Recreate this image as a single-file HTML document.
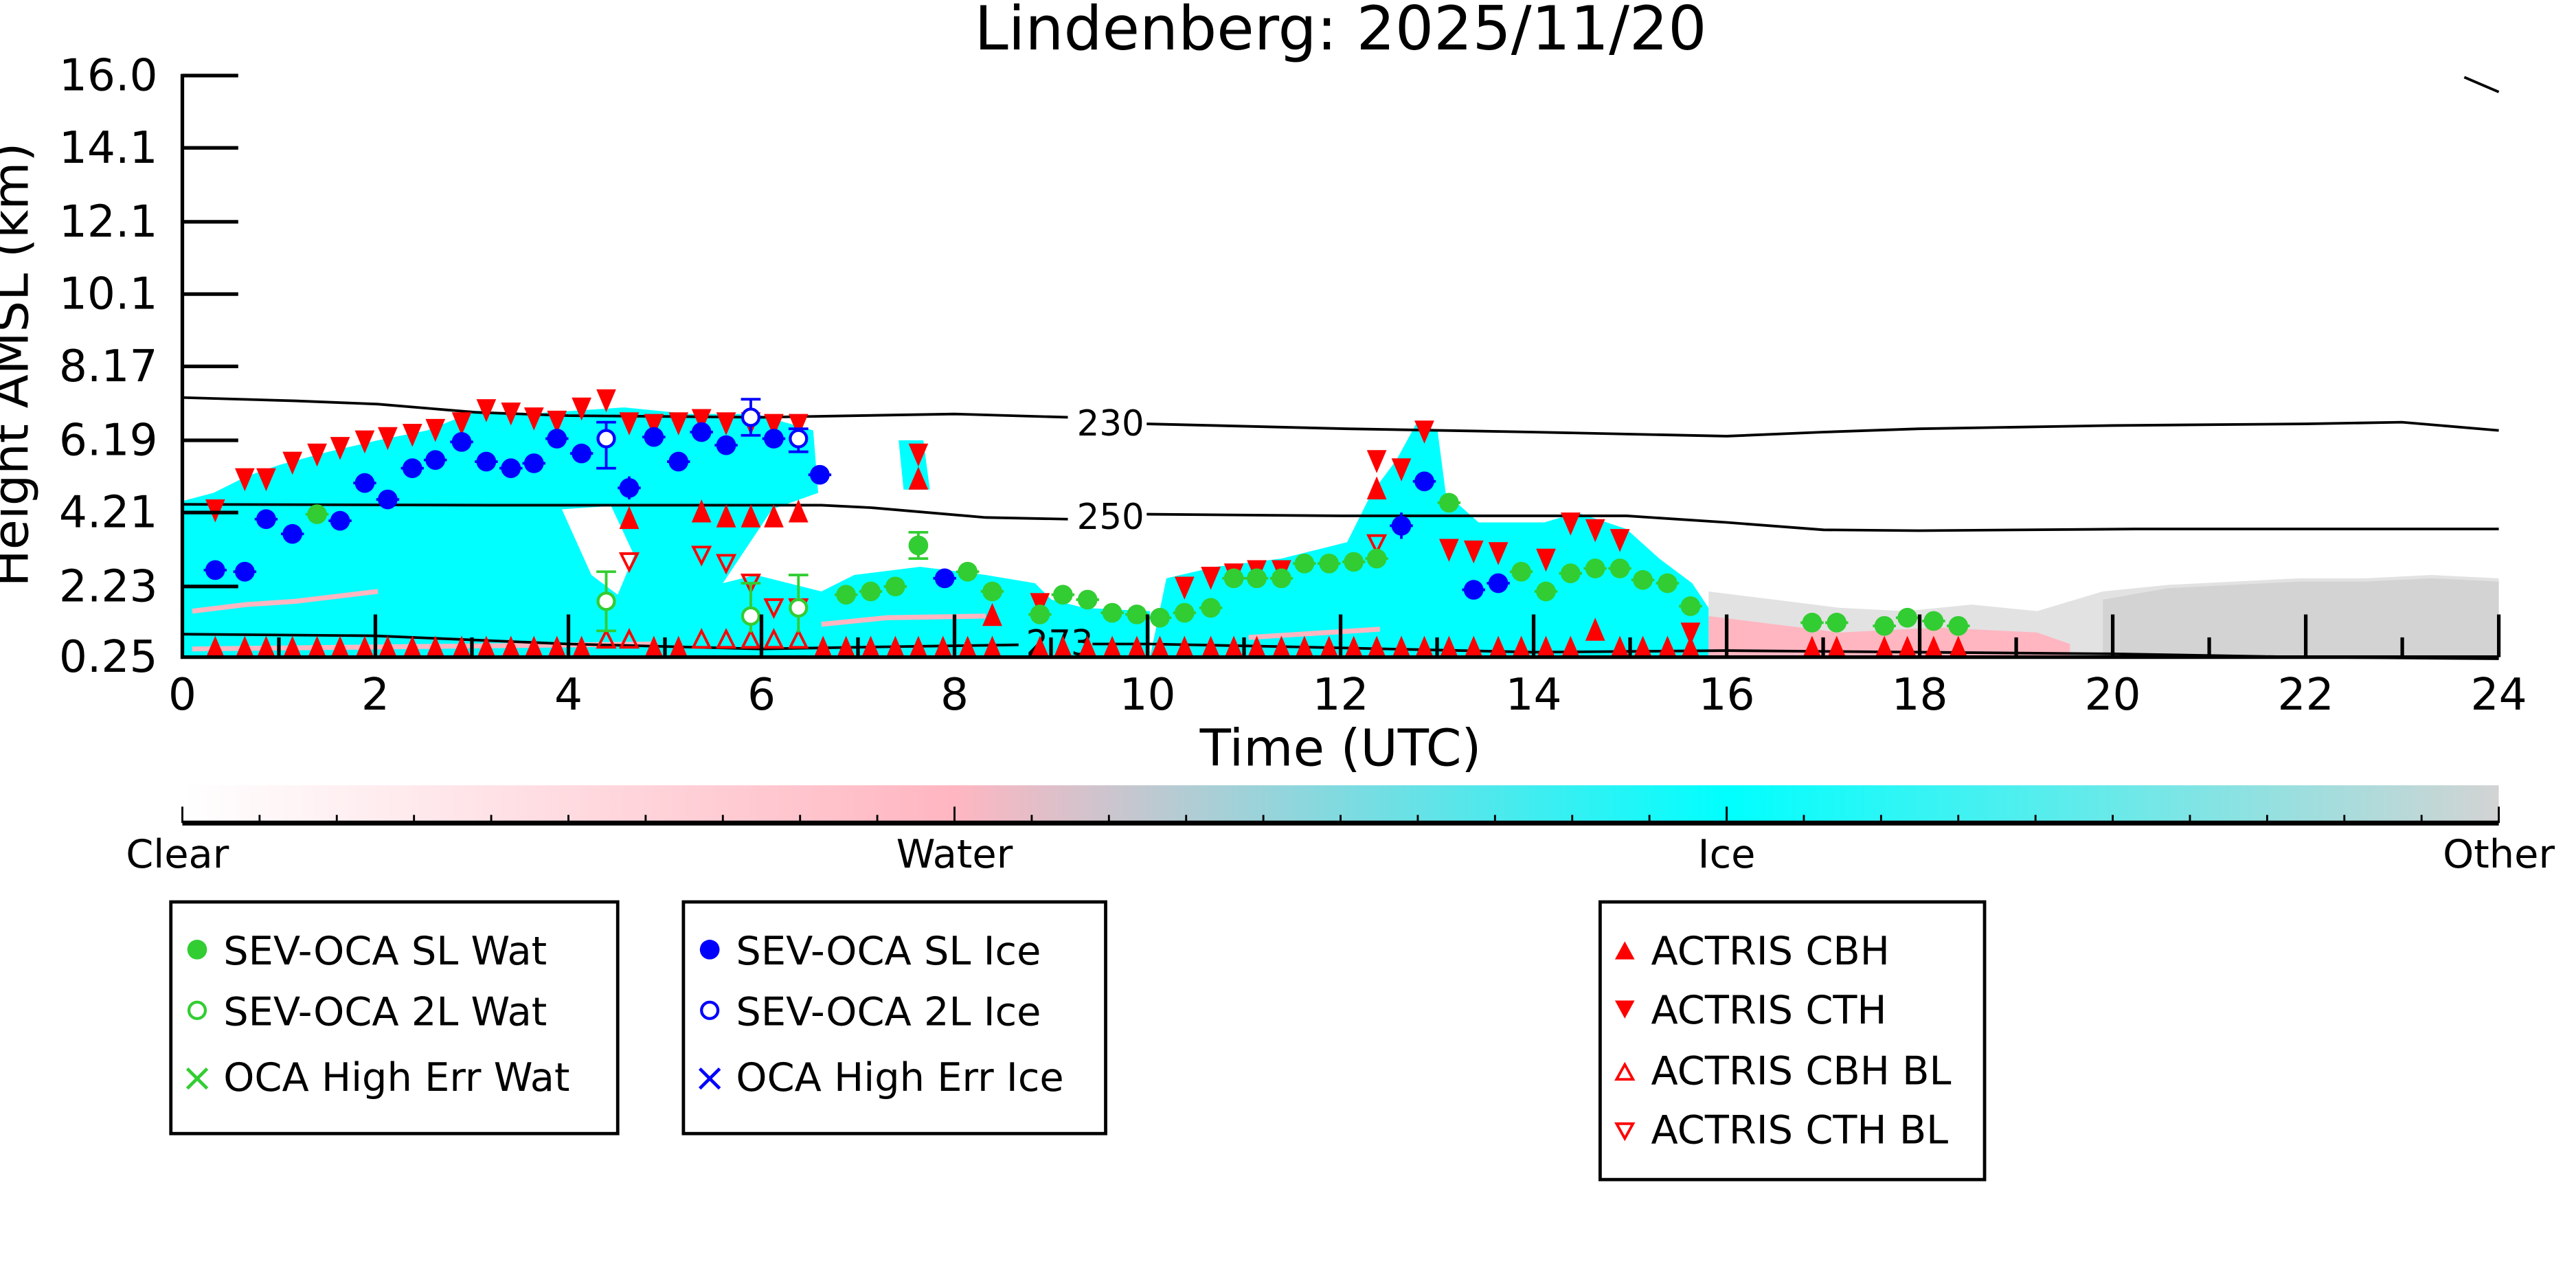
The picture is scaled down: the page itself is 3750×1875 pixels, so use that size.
<!DOCTYPE html>
<html><head><meta charset="utf-8"><style>html,body{margin:0;padding:0;background:#fff}svg{display:block}</style></head>
<body>
<svg width="3750" height="1875" viewBox="0 0 1568 784" xmlns="http://www.w3.org/2000/svg" font-family="'DejaVu Sans','Liberation Sans',sans-serif">
<defs>
<linearGradient id="cb" x1="0" x2="1" y1="0" y2="0">
<stop offset="0" stop-color="#ffffff"/><stop offset="0.333" stop-color="#ffb6c1"/><stop offset="0.667" stop-color="#00ffff"/><stop offset="1" stop-color="#d3d3d3"/>
</linearGradient>
</defs>
<text x="816" y="30" font-size="37" text-anchor="middle">Lindenberg: 2025/11/20</text>
<!-- gray other region -->
<polygon fill="#e2e2e2" points="1040,400 1040,360 1080,365 1120,370 1160,372 1200,368 1240,372 1280,360 1320,356 1360,354 1400,352 1440,352 1480,350 1521,352 1521,400"/>
<polygon fill="#d3d3d3" points="1280,400 1280,365 1320,358 1360,356 1400,354 1440,354 1480,352 1521,354 1521,400"/>
<polygon fill="#ffb6c1" points="1040,400 1040,375 1080,380 1120,385 1180,382 1240,385 1260,392 1260,400"/>
<!-- cyan regions -->
<polygon fill="#00ffff" points="111,305 130,300 150,290 170,283 200,275 230,268 260,262 290,250 320,252 350,250 380,248 420,252 460,252 495,262 498,300 470,310 450,340 440,355 460,350 500,360 520,350 560,345 600,350 630,355 640,365 660,370 700,372 700,400 111,400"/>
<polygon fill="#00ffff" points="710,352 740,345 780,340 820,330 835,300 850,280 862,258 875,262 880,300 900,318 940,318 960,312 990,322 1010,340 1030,355 1040,370 1040,400 700,400"/>
<polygon fill="#00ffff" points="547,268 562,268 566,298 550,298"/>
<polygon fill="#ffffff" points="342,310 372,308 386,338 376,362 360,350"/>
<!-- pink streaks -->
<g stroke="#ffb6c1" stroke-width="3" fill="none">
<path d="M117,372 L150,368 L180,366 L230,360"/><path d="M500,380 L540,376 L600,375"/><path d="M117,395 L400,392"/><path d="M760,388 L840,383"/>
</g>
<!-- contours -->
<g stroke="#000" stroke-width="1.6" fill="none">
<path d="M111,242 L180,244 L230,246 L290,251 L346,253 L463,254 L581,252 L650,254"/>
<path d="M698,258 L820,261 L933,263 L1051,265.5 L1110,263 L1168,261 L1286,259 L1403,258 L1462,257 L1521,262"/>
<path d="M111,307 L300,307.5 L500,307.5 L530,309 L600,315 L650,316"/>
<path d="M698,313 L816,314 L990,314 L1051,318 L1110,322.5 L1168,323 L1300,322 L1521,322"/>
<path d="M111,386 L228,387 L346,392 L463,395 L520,394 L620,392.5"/>
<path d="M665,392 L700,392 L800,394 L933,397 L1051,396 L1286,398 L1403,400 L1521,401"/>
<path d="M1500,47 L1521,56"/>
</g>
<text x="676" y="265" font-size="21.5" text-anchor="middle">230</text>
<text x="676" y="322" font-size="21.5" text-anchor="middle">250</text>
<text x="645" y="399" font-size="21.5" text-anchor="middle">273</text>
<!-- CBH bottom row -->
<g fill="#ff0000">
<path d="M125,401 l6,-14 l6,14z M143,401 l6,-14 l6,14z M156,401 l6,-14 l6,14z M172,401 l6,-14 l6,14z M187,401 l6,-14 l6,14z M201,401 l6,-14 l6,14z M216,401 l6,-14 l6,14z M230,401 l6,-14 l6,14z M245,401 l6,-14 l6,14z M259,401 l6,-14 l6,14z M275,401 l6,-14 l6,14z M290,401 l6,-14 l6,14z M305,401 l6,-14 l6,14z M319,401 l6,-14 l6,14z M333,401 l6,-14 l6,14z M348,401 l6,-14 l6,14z M392,401 l6,-14 l6,14z M407,401 l6,-14 l6,14z M495,401 l6,-14 l6,14z M509,401 l6,-14 l6,14z M524,401 l6,-14 l6,14z M539,401 l6,-14 l6,14z M553,401 l6,-14 l6,14z M568,401 l6,-14 l6,14z M583,401 l6,-14 l6,14z M598,401 l6,-14 l6,14z M627,401 l6,-14 l6,14z M641,401 l6,-14 l6,14z M656,401 l6,-14 l6,14z M671,401 l6,-14 l6,14z M686,401 l6,-14 l6,14z M700,401 l6,-14 l6,14z M715,401 l6,-14 l6,14z M731,401 l6,-14 l6,14z M745,401 l6,-14 l6,14z M759,401 l6,-14 l6,14z M774,401 l6,-14 l6,14z M788,401 l6,-14 l6,14z M803,401 l6,-14 l6,14z M818,401 l6,-14 l6,14z M832,401 l6,-14 l6,14z M847,401 l6,-14 l6,14z M861,401 l6,-14 l6,14z M876,401 l6,-14 l6,14z M891,401 l6,-14 l6,14z M906,401 l6,-14 l6,14z M920,401 l6,-14 l6,14z M935,401 l6,-14 l6,14z M950,401 l6,-14 l6,14z M980,401 l6,-14 l6,14z M994,401 l6,-14 l6,14z M1009,401 l6,-14 l6,14z M1023,401 l6,-14 l6,14z M1097,401 l6,-14 l6,14z M1112,401 l6,-14 l6,14z M1141,401 l6,-14 l6,14z M1155,401 l6,-14 l6,14z M1171,401 l6,-14 l6,14z M1186,401 l6,-14 l6,14z"/>
<path d="M377,322 l6,-14 l6,14z M421,318 l6,-14 l6,14z M436,321 l6,-14 l6,14z M451,321 l6,-14 l6,14z M465,321 l6,-14 l6,14z M480,318 l6,-14 l6,14z M553,298 l6,-14 l6,14z M832,304 l6,-14 l6,14z M965,390 l6,-14 l6,14z M598,381 l6,-14 l6,14z"/>
<path d="M125,304 l6,14 l6,-14z M143,285 l6,14 l6,-14z M156,285 l6,14 l6,-14z M172,275 l6,14 l6,-14z M187,270 l6,14 l6,-14z M201,266 l6,14 l6,-14z M216,262 l6,14 l6,-14z M230,260 l6,14 l6,-14z M245,258 l6,14 l6,-14z M259,255 l6,14 l6,-14z M275,251 l6,14 l6,-14z M290,243 l6,14 l6,-14z M305,245 l6,14 l6,-14z M319,248 l6,14 l6,-14z M333,250 l6,14 l6,-14z M348,242 l6,14 l6,-14z M363,237 l6,14 l6,-14z M377,251 l6,14 l6,-14z M392,252 l6,14 l6,-14z M407,251 l6,14 l6,-14z M421,249 l6,14 l6,-14z M436,251 l6,14 l6,-14z M451,251 l6,14 l6,-14z M465,252 l6,14 l6,-14z M480,252 l6,14 l6,-14z M553,270 l6,14 l6,-14z M832,274 l6,14 l6,-14z M847,279 l6,14 l6,-14z M861,256 l6,14 l6,-14z M876,328 l6,14 l6,-14z M891,329 l6,14 l6,-14z M906,330 l6,14 l6,-14z M935,334 l6,14 l6,-14z M950,312 l6,14 l6,-14z M965,316 l6,14 l6,-14z M980,322 l6,14 l6,-14z M1023,379 l6,14 l6,-14z M627,361 l6,14 l6,-14z M715,351 l6,14 l6,-14z M731,345 l6,14 l6,-14z M745,343 l6,14 l6,-14z M759,341 l6,14 l6,-14z M774,341 l6,14 l6,-14z"/>
</g>
<g fill="none" stroke="#ff0000" stroke-width="1.6">
<path d="M378,337 l5,10 l5,-10z M422,333 l5,10 l5,-10z M437,338 l5,10 l5,-10z M452,350 l5,10 l5,-10z M466,365 l5,10 l5,-10z M481,365 l5,10 l5,-10z M833,326 l5,10 l5,-10z"/>
<path d="M364,394 l5,-10 l5,10z M378,394 l5,-10 l5,10z M422,394 l5,-10 l5,10z M437,394 l5,-10 l5,10z M452,394 l5,-10 l5,10z M466,394 l5,-10 l5,10z M481,394 l5,-10 l5,10z"/>
</g>
<!-- error bars -->
<g stroke="#0000ff" stroke-width="1.6">
<path d="M124,347 h14 M142,348 h14 M155,316 h14 M171,325 h14 M200,317 h14 M215,294 h14 M229,304 h14 M244,285 h14 M258,280 h14 M274,269 h14 M289,281 h14 M304,285 h14 M318,282 h14 M332,267 h14 M347,276 h14 M376,297 h14 M391,266 h14 M406,281 h14 M420,263 h14 M435,271 h14 M464,267 h14 M492,289 h14 M568,352 h14 M846,320 h14 M860,293 h14 M890,359 h14 M905,355 h14"/>
<path d="M369,257 v28 M363,285 h12 M363,257 h12 M457,243 v22 M451,243 h12 M451,265 h12 M486,261 v14 M480,261 h12 M480,275 h12 M383,290 v14 M853,312 v16"/>
</g>
<g fill="#0000ff">
<circle cx="131" cy="347" r="6"/><circle cx="149" cy="348" r="6"/><circle cx="162" cy="316" r="6"/><circle cx="178" cy="325" r="6"/><circle cx="207" cy="317" r="6"/><circle cx="222" cy="294" r="6"/><circle cx="236" cy="304" r="6"/><circle cx="251" cy="285" r="6"/><circle cx="265" cy="280" r="6"/><circle cx="281" cy="269" r="6"/><circle cx="296" cy="281" r="6"/><circle cx="311" cy="285" r="6"/><circle cx="325" cy="282" r="6"/><circle cx="339" cy="267" r="6"/><circle cx="354" cy="276" r="6"/><circle cx="383" cy="297" r="6"/><circle cx="398" cy="266" r="6"/><circle cx="413" cy="281" r="6"/><circle cx="427" cy="263" r="6"/><circle cx="442" cy="271" r="6"/><circle cx="471" cy="267" r="6"/><circle cx="499" cy="289" r="6"/><circle cx="575" cy="352" r="6"/><circle cx="853" cy="320" r="6"/><circle cx="867" cy="293" r="6"/><circle cx="897" cy="359" r="6"/><circle cx="912" cy="355" r="6"/>
</g>
<g fill="#fff" stroke="#0000ff" stroke-width="1.8"><circle cx="369" cy="267" r="5"/><circle cx="457" cy="254" r="5"/><circle cx="486" cy="267" r="5"/></g>
<g stroke="#32cd32" stroke-width="1.6">
<path d="M369,348 v36 M363,348 h12 M363,384 h12 M457,355 v30 M451,355 h12 M486,350 v35 M480,350 h12 M559,324 v16 M553,324 h12 M553,340 h12 M186,313 h14 M875,306 h14 M831,340 h14"/>
<path d="M508,362 h14 M523,360 h14 M538,357 h14 M582,348 h14 M597,360 h14 M626,374 h14 M640,362 h14 M655,365 h14 M670,373 h14 M685,374 h14 M699,376 h14 M714,373 h14 M730,370 h14 M744,352 h14 M758,352 h14 M773,352 h14 M787,343 h14 M802,343 h14 M817,342 h14 M919,348 h14 M934,360 h14 M949,349 h14 M964,346 h14 M979,346 h14 M993,353 h14 M1008,355 h14 M1022,369 h14 M1096,379 h14 M1111,379 h14 M1140,381 h14 M1154,376 h14 M1170,378 h14 M1185,381 h14"/>
</g>
<g fill="#32cd32">
<circle cx="193" cy="313" r="6"/><circle cx="515" cy="362" r="6"/><circle cx="530" cy="360" r="6"/><circle cx="545" cy="357" r="6"/><circle cx="559" cy="332" r="6"/><circle cx="589" cy="348" r="6"/><circle cx="604" cy="360" r="6"/><circle cx="633" cy="374" r="6"/><circle cx="647" cy="362" r="6"/><circle cx="662" cy="365" r="6"/><circle cx="677" cy="373" r="6"/><circle cx="692" cy="374" r="6"/><circle cx="706" cy="376" r="6"/><circle cx="721" cy="373" r="6"/><circle cx="737" cy="370" r="6"/><circle cx="751" cy="352" r="6"/><circle cx="765" cy="352" r="6"/><circle cx="780" cy="352" r="6"/><circle cx="794" cy="343" r="6"/><circle cx="809" cy="343" r="6"/><circle cx="824" cy="342" r="6"/><circle cx="838" cy="340" r="6"/><circle cx="882" cy="306" r="6"/><circle cx="926" cy="348" r="6"/><circle cx="941" cy="360" r="6"/><circle cx="956" cy="349" r="6"/><circle cx="971" cy="346" r="6"/><circle cx="986" cy="346" r="6"/><circle cx="1000" cy="353" r="6"/><circle cx="1015" cy="355" r="6"/><circle cx="1029" cy="369" r="6"/><circle cx="1103" cy="379" r="6"/><circle cx="1118" cy="379" r="6"/><circle cx="1147" cy="381" r="6"/><circle cx="1161" cy="376" r="6"/><circle cx="1177" cy="378" r="6"/><circle cx="1192" cy="381" r="6"/>
</g>
<g fill="#fff" stroke="#32cd32" stroke-width="1.8"><circle cx="369" cy="366" r="5"/><circle cx="457" cy="375" r="5"/><circle cx="486" cy="370" r="5"/></g>
<!-- axes -->
<g stroke="#000" stroke-width="2.2" fill="none">
<path d="M111,45 V400 H1521"/>
<path d="M111,46 h34 M111,90 h34 M111,135 h34 M111,179 h34 M111,223 h34 M111,268 h34 M111,312 h34 M111,357 h34"/>
<path d="M169.75,400 v-12 M228.5,400 v-26 M287.25,400 v-12 M346,400 v-26 M404.75,400 v-12 M463.5,400 v-26 M522.25,400 v-12 M581,400 v-26 M639.75,400 v-12 M698.5,400 v-26 M757.25,400 v-12 M816,400 v-26 M874.75,400 v-12 M933.5,400 v-26 M992.25,400 v-12 M1051,400 v-26 M1109.75,400 v-12 M1168.5,400 v-26 M1227.25,400 v-12 M1286,400 v-26 M1344.75,400 v-12 M1403.5,400 v-26 M1462.25,400 v-12 M1521,400 v-26"/>
</g>
<g font-size="27" text-anchor="end">
<text x="96" y="55">16.0</text><text x="96" y="99">14.1</text><text x="96" y="144">12.1</text><text x="96" y="188">10.1</text><text x="96" y="232">8.17</text><text x="96" y="277">6.19</text><text x="96" y="321">4.21</text><text x="96" y="366">2.23</text><text x="96" y="409">0.25</text>
</g>
<g font-size="27" text-anchor="middle">
<text x="111" y="432">0</text><text x="228.5" y="432">2</text><text x="346" y="432">4</text><text x="463.5" y="432">6</text><text x="581" y="432">8</text><text x="698.5" y="432">10</text><text x="816" y="432">12</text><text x="933.5" y="432">14</text><text x="1051" y="432">16</text><text x="1168.5" y="432">18</text><text x="1286" y="432">20</text><text x="1403.5" y="432">22</text><text x="1521" y="432">24</text>
</g>
<text x="816" y="466" font-size="31" text-anchor="middle">Time (UTC)</text>
<text transform="translate(17,222) rotate(-90)" font-size="30" text-anchor="middle">Height AMSL (km)</text>
<!-- colorbar -->
<rect x="111" y="478" width="1410" height="23" fill="url(#cb)"/>
<g stroke="#000" stroke-width="1.2">
<path d="M111,501 H1521" stroke-width="3"/>
<path d="M111,501 v-10 M581,501 v-10 M1051,501 v-10 M1521,501 v-10"/>
<path d="M158,501 v-5 M205,501 v-5 M252,501 v-5 M299,501 v-5 M346,501 v-5 M393,501 v-5 M440,501 v-5 M487,501 v-5 M534,501 v-5 M628,501 v-5 M675,501 v-5 M722,501 v-5 M769,501 v-5 M816,501 v-5 M863,501 v-5 M910,501 v-5 M957,501 v-5 M1004,501 v-5 M1098,501 v-5 M1145,501 v-5 M1192,501 v-5 M1239,501 v-5 M1286,501 v-5 M1333,501 v-5 M1380,501 v-5 M1427,501 v-5 M1474,501 v-5"/>
</g>
<g font-size="24" text-anchor="middle">
<text x="108" y="528">Clear</text><text x="581" y="528">Water</text><text x="1051" y="528">Ice</text><text x="1521" y="528">Other</text>
</g>
<!-- legends -->
<g fill="none" stroke="#000" stroke-width="2">
<rect x="104" y="549" width="272" height="141"/><rect x="416" y="549" width="257" height="141"/><rect x="974" y="549" width="234" height="169"/>
</g>
<g font-size="24">
<circle cx="120" cy="578" r="6" fill="#32cd32"/><text x="136" y="587">SEV-OCA SL Wat</text>
<circle cx="120" cy="615" r="5" fill="none" stroke="#32cd32" stroke-width="1.8"/><text x="136" y="624">SEV-OCA 2L Wat</text>
<text x="120" y="664" fill="#32cd32" text-anchor="middle">×</text><text x="136" y="664">OCA High Err Wat</text>
<circle cx="432" cy="578" r="6" fill="#0000ff"/><text x="448" y="587">SEV-OCA SL Ice</text>
<circle cx="432" cy="615" r="5" fill="none" stroke="#0000ff" stroke-width="1.8"/><text x="448" y="624">SEV-OCA 2L Ice</text>
<text x="432" y="664" fill="#0000ff" text-anchor="middle">×</text><text x="448" y="664">OCA High Err Ice</text>
<path d="M983,584 l6,-11 l6,11z" fill="#ff0000"/><text x="1005" y="587">ACTRIS CBH</text>
<path d="M983,609 l6,11 l6,-11z" fill="#ff0000"/><text x="1005" y="623">ACTRIS CTH</text>
<path d="M984,657 l5,-9 l5,9z" fill="none" stroke="#ff0000" stroke-width="1.6"/><text x="1005" y="660">ACTRIS CBH BL</text>
<path d="M984,684 l5,9 l5,-9z" fill="none" stroke="#ff0000" stroke-width="1.6"/><text x="1005" y="696">ACTRIS CTH BL</text>
</g>
</svg>
</body></html>
